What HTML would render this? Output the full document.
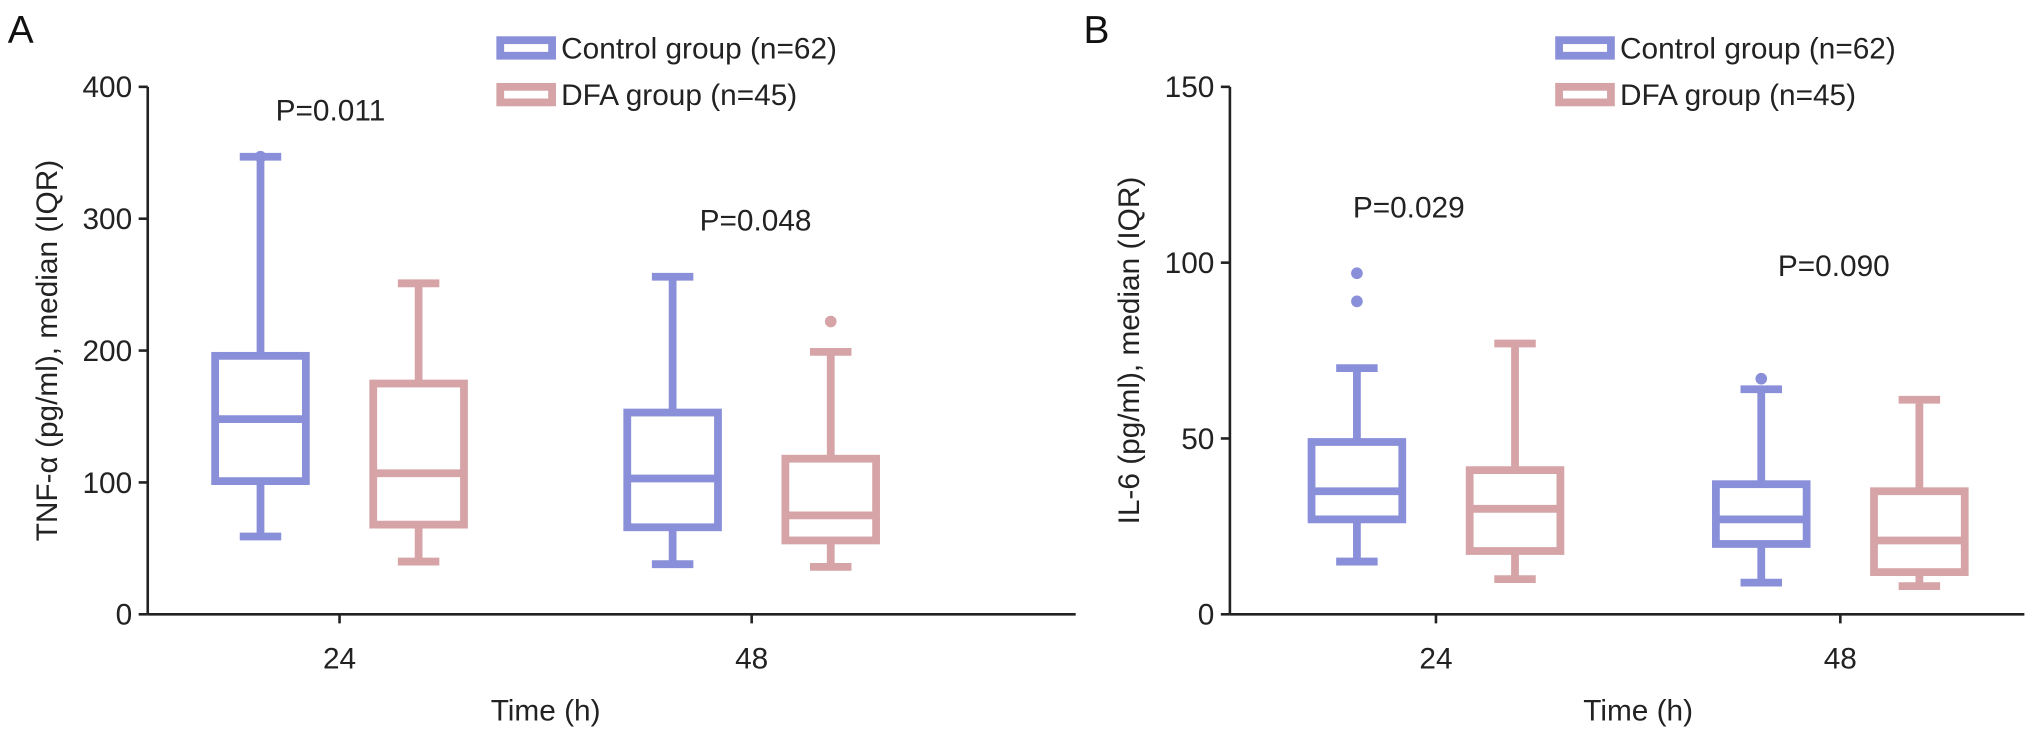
<!DOCTYPE html>
<html><head><meta charset="utf-8">
<style>
html,body{margin:0;padding:0;background:#fff;}
svg{display:block;font-family:"Liberation Sans",Arial,sans-serif;}
</style></head>
<body>
<svg width="2032" height="737" viewBox="0 0 2032 737" xmlns="http://www.w3.org/2000/svg"><g id="fig" transform="scale(1.296)"></g></svg>
<script>
// ---- data ----
const categories = ["24", "48"];
const groups = ["Control group (n=62)", "DFA group (n=45)"];
// panel A: TNF-alpha  [min, q1, median, q3, max]
const tnfControl = [[59, 101, 148, 196, 347], [38, 66, 103, 153, 256]];
const tnfDFA = [[40, 68, 107, 175, 251], [36, 56, 75, 118, 199]];
const tnfOutControl = [[347], []];
const tnfOutDFA = [[], [222]];
const tnfTicks = [0, 100, 200, 300, 400];
const tnfP = ["P=0.011", "P=0.048"];
// panel B: IL-6
const il6Control = [[15, 27, 35, 49, 70], [9, 20, 27, 37, 64]];
const il6DFA = [[10, 18, 30, 41, 77], [8, 12, 21, 35, 61]];
const il6OutControl = [[97, 89], [67]];
const il6OutDFA = [[], []];
const il6Ticks = [0, 50, 100, 150];
const il6P = ["P=0.029", "P=0.090"];

const COLORS = ["#8a8fd9", "#d6a4a7"];
const NS = "http://www.w3.org/2000/svg";
const svg = document.getElementById("fig");
function el(tag, attrs, parent, text) {
  const e = document.createElementNS(NS, tag);
  for (const k in attrs) e.setAttribute(k, attrs[k]);
  if (text !== undefined) e.textContent = text;
  (parent || svg).appendChild(e);
  return e;
}

function panel(cfg) {
  const g = el("g", {});
  
  
  const y = v => cfg.y0 - (v - cfg.ymin) / (cfg.ymax - cfg.ymin) * (cfg.y0 - cfg.y1);
  const x = i => cfg.catX[i];
  const L = el("text", {x: cfg.letterX, y: 33, "font-size": 30, fill: "#111"}, g, cfg.letter);
  
  
  const ya = el("line", {x1: cfg.ax, x2: cfg.ax, y1: cfg.y1, y2: cfg.y0, stroke: "#222", "stroke-width": 2}, g);
  
  
  cfg.ticks.forEach(t => {
    const tl = el("line", {x1: cfg.ax - 7, x2: cfg.ax, y1: y(t), y2: y(t), stroke: "#222", "stroke-width": 2}, g);
    
    
    const tt = el("text", {x: cfg.ax - 12, y: y(t) + 8, "font-size": 23, "text-anchor": "end", fill: "#222"}, g, String(t));
    
    
  });
  const yt = el("text", {x: 0, y: 0, "font-size": 23, "text-anchor": "middle", fill: "#222",
    transform: `translate(${cfg.ax - 70},${(cfg.y0 + cfg.y1) / 2}) rotate(-90)`}, g, cfg.ytitle);
  
  
  const xa = el("line", {x1: cfg.ax, x2: cfg.axEnd, y1: cfg.y0, y2: cfg.y0, stroke: "#222", "stroke-width": 2}, g);
  
  
  categories.forEach((c, i) => {
    const tl = el("line", {x1: x(i), x2: x(i), y1: cfg.y0, y2: cfg.y0 + 7, stroke: "#222", "stroke-width": 2}, g);
    
    
    const tt = el("text", {x: x(i), y: cfg.y0 + 42, "font-size": 23, "text-anchor": "middle", fill: "#222"}, g, c);
    
    
    const p = el("text", {x: x(i) + cfg.pOff[i], y: cfg.pY[i], "font-size": 23, "text-anchor": "middle", fill: "#222"}, g, cfg.p[i]);
    
    
  });
  const xt = el("text", {x: (x(0) + x(1)) / 2, y: cfg.y0 + 82, "font-size": 23, "text-anchor": "middle", fill: "#222"}, g, "Time (h)");
  
  
  const series = [cfg.ctrl, cfg.dfa], outs = [cfg.outC, cfg.outD];
  series.forEach((s, si) => {
    s.forEach((b, i) => {
      const cx = x(i) + (si === 0 ? -cfg.off : cfg.off);
      const col = COLORS[si], w = cfg.bw, cw = 32;
      const bg = el("g", {stroke: col, "stroke-width": 6, fill: "none"}, g);
      
      
      el("line", {x1: cx, x2: cx, y1: y(b[0]), y2: y(b[1])}, bg);
      el("line", {x1: cx, x2: cx, y1: y(b[3]), y2: y(b[4])}, bg);
      el("line", {x1: cx - cw / 2, x2: cx + cw / 2, y1: y(b[0]), y2: y(b[0])}, bg);
      el("line", {x1: cx - cw / 2, x2: cx + cw / 2, y1: y(b[4]), y2: y(b[4])}, bg);
      el("rect", {x: cx - w / 2, y: y(b[3]), width: w, height: y(b[1]) - y(b[3])}, bg);
      el("line", {x1: cx - w / 2, x2: cx + w / 2, y1: y(b[2]), y2: y(b[2])}, bg);
      outs[si][i].forEach(o => {
        const d = el("circle", {cx: cx, cy: y(o), r: 4.5, fill: col, stroke: "none"}, g);
        
        
      });
    });
  });
  groups.forEach((gname, si) => {
    const ly = 37 + si * 36;
    const lg = el("g", {}, g);
    
    
    el("rect", {x: cfg.legX, y: ly - 6, width: 40, height: 12, fill: "none", stroke: COLORS[si], "stroke-width": 6}, lg);
    el("text", {x: cfg.legX + 47, y: ly + 8, "font-size": 23, fill: "#222"}, lg, gname);
  });
}

panel({name: "panel-a-tnf", letter: "A", letterX: 6, ax: 114, axEnd: 830, y0: 474, y1: 67, ymin: 0, ymax: 400,
  catX: [262, 580], off: 61, bw: 70, ticks: tnfTicks, ytitle: "TNF-α (pg/ml), median (IQR)",
  ctrl: tnfControl, dfa: tnfDFA, outC: tnfOutControl, outD: tnfOutDFA, p: tnfP, pY: [93, 178], pOff: [-7, 3], legX: 386});
panel({name: "panel-b-il6", letter: "B", letterX: 836, ax: 949, axEnd: 1562, y0: 474, y1: 67, ymin: 0, ymax: 150,
  catX: [1108, 1420], off: 61, bw: 70, ticks: il6Ticks, ytitle: "IL-6 (pg/ml), median (IQR)",
  ctrl: il6Control, dfa: il6DFA, outC: il6OutControl, outD: il6OutDFA, p: il6P, pY: [168, 213], pOff: [-21, -5], legX: 1203});
</script>
</body></html>
